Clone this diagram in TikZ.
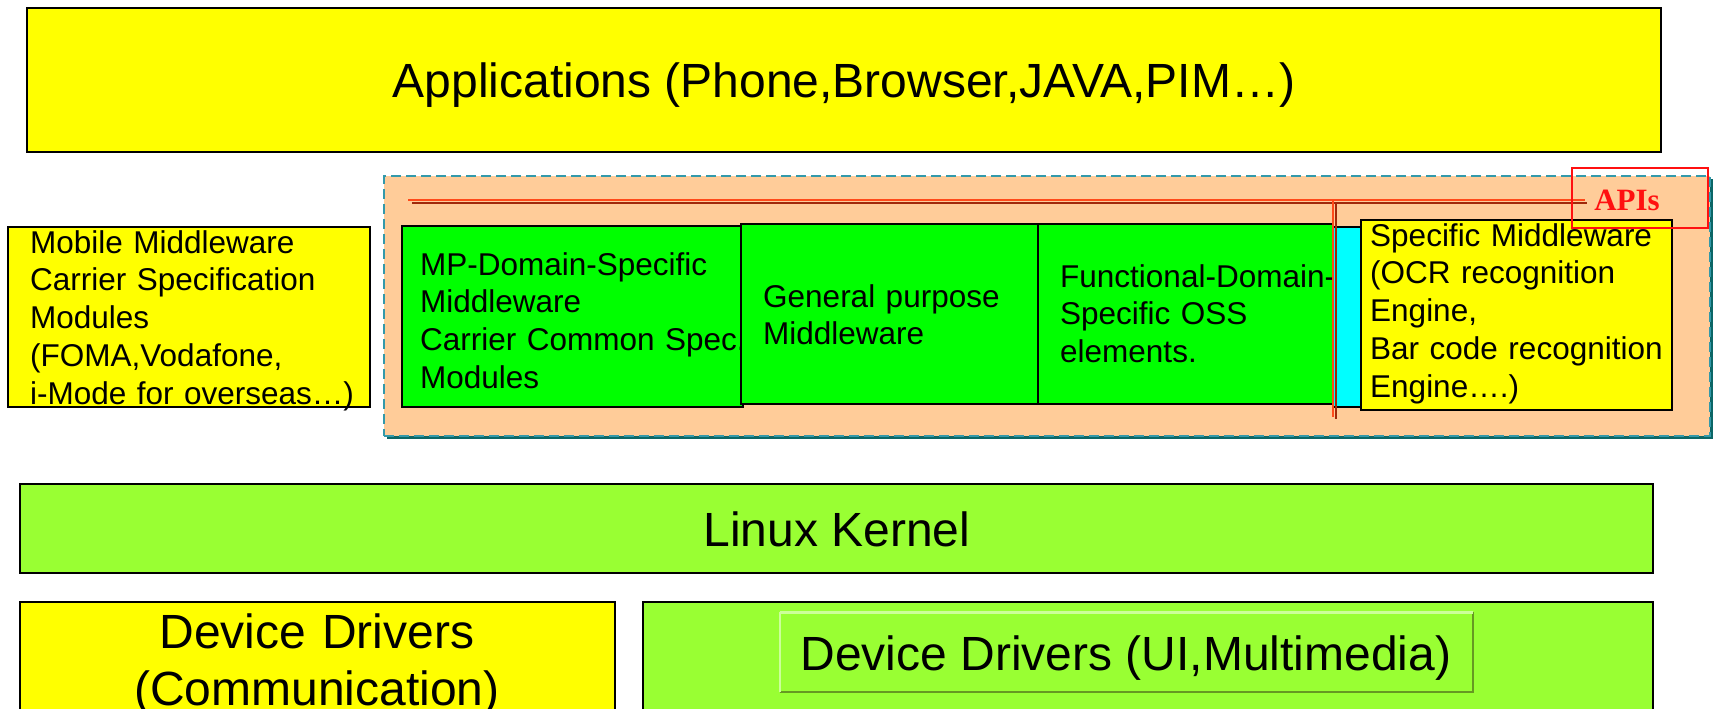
\documentclass[tikz,border=0pt]{standalone}
\usepackage{fontspec}
\setmainfont{Liberation Sans}
\newfontfamily\apifont{Liberation Serif}
\definecolor{ayel}{HTML}{FFFF00}
\definecolor{lgreen}{HTML}{99FF33}
\definecolor{bgreen}{HTML}{00FF00}
\definecolor{acyan}{HTML}{00FFFF}
\definecolor{peach}{HTML}{FFCC99}
\definecolor{tealb}{HTML}{3399AA}
\definecolor{tealsh}{HTML}{0B6666}
\definecolor{apired}{HTML}{FF1010}
\definecolor{linelt}{HTML}{FF4A1A}
\definecolor{linedk}{HTML}{A0280A}
\definecolor{bevlt}{HTML}{CCFF99}
\definecolor{bevdk}{HTML}{669922}
\tikzset{
  blk/.style={draw=black, line width=1.6pt, inner sep=0pt, outer sep=0pt, anchor=north west},
  bigtxt/.style={font=\fontsize{48}{57.6}\selectfont, inner sep=0pt},
  midtxt/.style={font=\fontsize{31.5}{37.8}\selectfont, inner sep=0pt, anchor=base west, align=left},
  apiline/.style={line width=2.6pt, color=linelt},
  apishadow/.style={line width=2pt, color=linedk},
}
\begin{document}
\begin{tikzpicture}[x=1pt,y=-1pt]
\useasboundingbox (0,0) rectangle (1717,709);
\clip (0,0) rectangle (1717,709);
% Applications
\node[blk, fill=ayel, minimum width=1634, minimum height=144] (app) at (27,8) {};
\node[bigtxt, anchor=base] (apptxt) at (844,97) {Applications (Phone,Browser,JAVA,PIM…)};
% middleware container
\fill[tealsh] (387,179) rectangle (1713,439);
\node[draw=tealb, fill=peach, line width=1.8pt, dash pattern=on 10pt off 5pt, inner sep=0pt, outer sep=0pt, anchor=north west, minimum width=1326, minimum height=260] (mw) at (384,176) {};
% API horizontal line
\coordinate (hA) at (408,200);
\coordinate (hB) at (1585,200);
\coordinate (hAs) at (412,202.5);
\coordinate (hBs) at (1587,202.5);
\draw[apishadow] (hAs) -- (hBs);
\draw[apiline] (hA) -- (hB);
% left box
\node[blk, fill=ayel, minimum width=362, minimum height=180] (mob) at (8,227) {};
\node[midtxt, text width=340] (mobtxt) at (30,253) {Mobile Middleware\\Carrier Specification\\Modules\\(FOMA,Vodafone,\\i-Mode for overseas…)};
% green boxes
\node[blk, fill=bgreen, minimum width=341, minimum height=181] (g1) at (402,226) {};
\node[midtxt, text width=330] (g1txt) at (420,275) {MP-Domain-Specific\\Middleware\\Carrier Common Spec.\\Modules};
\node[blk, fill=bgreen, minimum width=297, minimum height=180] (g2) at (741,224) {};
\node[midtxt, text width=280] (g2txt) at (763,307) {General purpose\\Middleware};
\node[blk, fill=bgreen, minimum width=295, minimum height=180] (g3) at (1038,224) {};
\node[midtxt, text width=290] (g3txt) at (1060,287) {Functional-Domain-\\Specific OSS\\elements.};
\node[blk, fill=acyan, minimum width=29, minimum height=180] (cy) at (1333,227) {};
% vertical API line
\coordinate (vA) at (1333,200);
\coordinate (vB) at (1333,417);
\coordinate (vAs) at (1335.5,203);
\coordinate (vBs) at (1335.5,419);
\draw[apishadow] (vAs) -- (vBs);
\draw[apiline] (vA) -- (vB);
% specific middleware
\node[blk, fill=ayel, minimum width=311, minimum height=190] (sp) at (1361,220) {};
\node[midtxt, text width=300] (sptxt) at (1370,246) {Specific Middleware\\(OCR recognition\\Engine,\\Bar code recognition\\Engine….)};
% APIs label
\node[draw=apired, line width=1.6pt, inner sep=0pt, outer sep=0pt, anchor=north west, minimum width=136, minimum height=60] (apis) at (1572,168) {};
\node[font=\apifont\bfseries\fontsize{31}{37}\selectfont, text=apired, inner sep=0pt, anchor=base] (apistxt) at (1627,210) {APIs};
% Linux kernel
\node[blk, fill=lgreen, minimum width=1633, minimum height=89] (lk) at (20,484) {};
\node[bigtxt, anchor=base] (lktxt) at (837,546) {Linux Kernel};
% Device drivers
\node[blk, fill=ayel, minimum width=595, minimum height=140] (ddc) at (20,602) {};
\node[bigtxt, anchor=base, align=center, text width=590] (ddctxt) at (317,648) {Device Drivers\\(Communication)};
\node[blk, fill=lgreen, minimum width=1010, minimum height=140] (ddu) at (643,602) {};
\node[fill=lgreen, inner sep=0pt, outer sep=0pt, anchor=north west, minimum width=693, minimum height=80] (ddi) at (780,612) {};
\draw[bevdk, line width=2.5pt] (ddi.north east) -- (ddi.south east) -- (ddi.south west);
\draw[bevlt, line width=3pt] (ddi.north west) -- (ddi.north east);
\draw[bevlt, line width=1.2pt] (ddi.north west) -- (ddi.south west);
\node[bigtxt, anchor=base] (dditxt) at (1126,670) {Device Drivers (UI,Multimedia)};
\end{tikzpicture}
\end{document}
